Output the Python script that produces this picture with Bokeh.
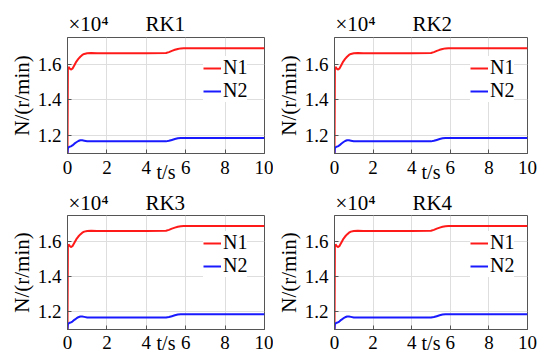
from bokeh.plotting import figure
from bokeh.layouts import column, row
from bokeh.models import Legend, LegendItem, FixedTicker, Range1d
from bokeh.embed import file_html
from bokeh.resources import INLINE

# ---- data ----
titles = ["RK1", "RK2", "RK3", "RK4"]
t = [0, 0.02, 0.05, 0.1, 0.17, 0.25, 0.35, 0.45, 0.55, 0.65, 0.75, 0.85, 1.0,
     1.2, 1.5, 2, 3, 4, 5.0, 5.15, 5.3, 5.45, 5.6, 5.75, 5.9, 6.1, 7, 8, 9, 10]
n1 = [11000, 15700, 15850, 15780, 15700, 15750, 15950, 16150, 16300, 16420, 16520, 16580, 16620,
      16630, 16620, 16620, 16620, 16620, 16630, 16680, 16750, 16810, 16860, 16890, 16900, 16900,
      16900, 16900, 16900, 16900]
n2 = [11000, 11300, 11340, 11380, 11400, 11450, 11550, 11630, 11700, 11740, 11740, 11720, 11690,
      11680, 11680, 11680, 11680, 11680, 11680, 11710, 11760, 11810, 11850, 11870, 11870, 11870,
      11870, 11870, 11870, 11870]
series_names = ["N1", "N2"]
series_colors = ["#ff1a1a", "#1a1aff"]
x_ticks = [0, 2, 4, 6, 8, 10]
y_ticks = [12000, 14000, 16000]
y_tick_labels = ["1.2", "1.4", "1.6"]
x_label = "t/s"
y_label = "N/(r/min)"
exponent = "\u00d710\u2074"

FONT = "Liberation Serif"
TXT = "#000000"
EDGE = "#555555"
NBSP = "\u00a0"


def style_axis(ax, size):
    ax.axis_line_color = EDGE
    ax.major_tick_line_color = EDGE
    ax.major_tick_in = 4
    ax.major_tick_out = 0
    ax.minor_tick_line_color = None
    ax.major_label_text_font = FONT
    ax.major_label_text_font_size = size
    ax.major_label_text_color = TXT
    ax.major_label_text_line_height = 1.0
    ax.axis_label_text_font = FONT
    ax.axis_label_text_font_style = "normal"
    ax.axis_label_text_color = TXT
    ax.axis_label_text_line_height = 1.0


def make_panel(title, b_left, frame_w, b_right, b_top, frame_h, b_bottom,
               x_standoff, xl_standoff, title_standoff):
    p = figure(width=b_left + frame_w + b_right, height=b_top + frame_h + b_bottom,
               output_backend="svg", toolbar_location=None,
               x_range=Range1d(0, 10), y_range=Range1d(11000, 17500),
               min_border_left=b_left, min_border_right=b_right,
               min_border_top=b_top, min_border_bottom=b_bottom)
    p.title.text = exponent + NBSP * 7 + title
    p.title.align = "left"
    p.title.offset = 1
    p.title.text_font = FONT
    p.title.text_font_size = "21px"
    p.title.text_font_style = "normal"
    p.title.text_color = TXT
    p.title.text_line_height = 1.0
    p.title.standoff = title_standoff
    p.outline_line_color = EDGE
    p.xaxis.ticker = FixedTicker(ticks=x_ticks)
    p.yaxis.ticker = FixedTicker(ticks=y_ticks)
    p.yaxis.major_label_overrides = {v: s for v, s in zip(y_ticks, y_tick_labels)}
    style_axis(p.xaxis[0], "19px")
    style_axis(p.yaxis[0], "19px")
    p.xaxis.major_label_standoff = x_standoff
    p.xaxis.axis_label = x_label
    p.xaxis.axis_label_text_font_size = "20px"
    p.xaxis.axis_label_standoff = xl_standoff
    p.yaxis.major_label_standoff = 6
    p.yaxis.axis_label = y_label
    p.yaxis.axis_label_text_font_size = "21px"
    p.yaxis.axis_label_standoff = 1
    p.grid.grid_line_color = "#dedede"

    r1 = p.line(t, n1, line_color=series_colors[0], line_width=2)
    r2 = p.line(t, n2, line_color=series_colors[1], line_width=2)
    leg_h = 2 * 22 + 4
    leg = Legend(items=[LegendItem(label=series_names[0], renderers=[r1]),
                        LegendItem(label=series_names[1], renderers=[r2])],
                 location=(136, frame_h - 17 - leg_h), label_text_font=FONT,
                 label_text_font_size="20px", label_text_line_height=1.0,
                 label_text_color=TXT, glyph_width=18, glyph_height=22, label_height=22,
                 spacing=0, padding=2, margin=0, label_standoff=2,
                 border_line_color=None, background_fill_color="white",
                 background_fill_alpha=1.0)
    p.add_layout(leg)
    return p


p1 = make_panel(titles[0], 67, 197, 9, 37, 116, 34, 7, -16, 3)
p2 = make_panel(titles[1], 55, 199, 12, 37, 116, 34, 7, -16, 3)
p3 = make_panel(titles[2], 67, 197, 9, 25, 117, 29, 6, -20, 2)
p4 = make_panel(titles[3], 55, 199, 12, 25, 117, 29, 6, -20, 2)

layout = column(row(p1, p2), row(p3, p4))

open("out.html", "w").write(file_html(layout, INLINE))
